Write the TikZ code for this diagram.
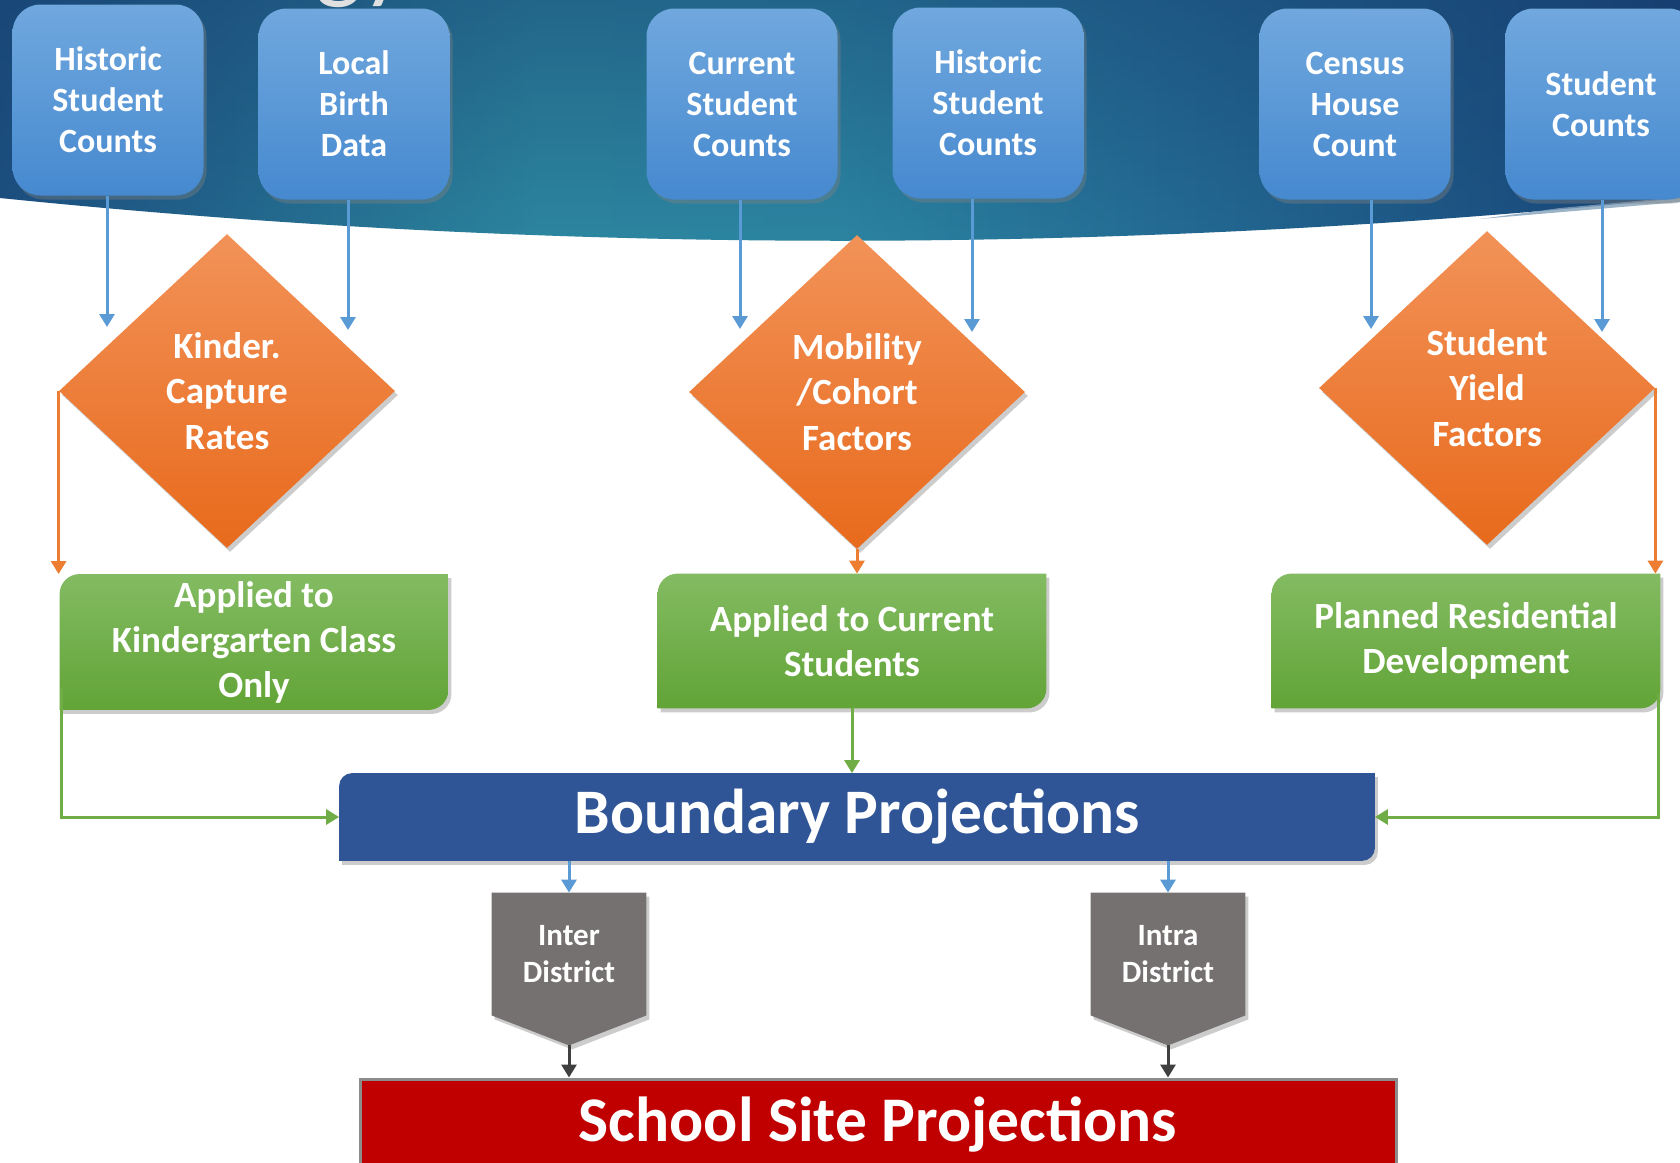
\documentclass[tikz,border=0pt]{standalone}
\usepackage{fontspec}
\setmainfont{Carlito}
\usetikzlibrary{shapes.geometric,arrows.meta,shadows,backgrounds,fadings}

\definecolor{bandA}{RGB}{28,80,128}
\definecolor{bandB}{RGB}{45,136,160}
\definecolor{bandC}{RGB}{44,134,162}
\definecolor{bandD}{RGB}{36,108,148}
\definecolor{bandE}{RGB}{28,82,130}
\definecolor{bandF}{RGB}{24,66,115}
\definecolor{bandTop}{RGB}{22,60,110}
\definecolor{boxT}{RGB}{112,168,222}
\definecolor{boxB}{RGB}{70,137,207}
\definecolor{diaT}{RGB}{242,146,88}
\definecolor{diaB}{RGB}{232,106,28}
\definecolor{grnT}{RGB}{131,187,98}
\definecolor{grnB}{RGB}{98,164,55}
\definecolor{bndBlue}{RGB}{47,85,151}
\definecolor{pentGrey}{RGB}{118,113,113}
\definecolor{siteRed}{RGB}{192,0,0}
\definecolor{arrBlue}{RGB}{91,155,213}
\definecolor{arrOrange}{RGB}{237,125,49}
\definecolor{arrGreen}{RGB}{112,173,71}
\definecolor{arrDark}{RGB}{64,64,64}

\pgfdeclarehorizontalshading{bandshade}{100bp}{color(0bp)=(bandA); color(25bp)=(bandA); color(41bp)=(bandB);
  color(50bp)=(bandC); color(60bp)=(bandD); color(70bp)=(bandE); color(75bp)=(bandF); color(100bp)=(bandF)}

\tikzset{
  myshadow/.style={drop shadow={opacity=0.4,shadow xshift=1.5pt,shadow yshift=-2pt}},
  inputbox/.style={rounded corners=14pt, top color=boxT, bottom color=boxB, minimum width=95.5pt, minimum height=95.5pt,
    text=white, align=center, font=\fontsize{17}{20.5}\selectfont\bfseries, myshadow},
  factor/.style={diamond, inner sep=0pt, minimum width=168pt, minimum height=157pt, top color=diaT, bottom color=diaB,
    text=white, align=center, font=\fontsize{18.5}{22.7}\selectfont\bfseries, myshadow},
  resultbox/.style={minimum width=194pt, minimum height=67pt, text=white, align=center, font=\fontsize{18.5}{22.5}\selectfont\bfseries},
  bigbar/.style={minimum width=517.5pt, minimum height=43.5pt, text=white, font=\fontsize{31.7}{38}\selectfont\bfseries},
  sitebar/.style={minimum width=518pt, minimum height=45pt, fill=siteRed, draw=black!45, line width=1.5pt, text=white,
    font=\fontsize{31.8}{38}\selectfont\bfseries},
  distr/.style={minimum width=77pt, minimum height=61pt, text=white, align=center, font=\fontsize{15.5}{18.75}\selectfont\bfseries},
  bluearr/.style={arrBlue, line width=1.5pt, -{Triangle[length=6.5pt,width=7.5pt]}},
  orangearr/.style={arrOrange, line width=1.5pt, -{Triangle[length=6.5pt,width=7.5pt]}},
  greenarr/.style={arrGreen, line width=1.5pt, -{Triangle[length=6.5pt,width=7.5pt]}},
  darkarr/.style={arrDark, line width=1.5pt, -{Triangle[length=6.5pt,width=7.5pt]}}
}

\begin{document}
\begin{tikzpicture}[x=0.5pt,y=-0.5pt]
\useasboundingbox (0,0) rectangle (1680,1162);

% backdrop and top band
\begin{scope}[on background layer]
\fill[white] (0,0) rectangle (1680,1162);
\shade[shading=bandshade] (0,-5) -- (1680,-5) -- (1680,198) .. controls (1120,255) and (560,255) .. (0,198) -- cycle;
\fill[bandTop, opacity=0.45, path fading=south] (0,-5) -- (1680,-5) -- (1680,198) .. controls (1120,255) and (560,255) .. (0,198) -- cycle;
\fill[bandE!55!white, opacity=0.8] (1480,219) -- (1680,202) -- (1680,197) -- (1560,208) -- cycle;
\end{scope}
\node[anchor=base, font=\fontsize{50}{50}\selectfont, text=black!12] (title) at (362,-10) {gy};

% data sources
\node[inputbox] (hist1) at (108,100) {Historic\\Student\\Counts};
\node[inputbox] (birth) at (354,104) {Local\\Birth\\Data};
\node[inputbox] (curr) at (742,104) {Current\\Student\\Counts};
\node[inputbox] (hist2) at (988,103) {Historic\\Student\\Counts};
\node[inputbox] (census) at (1355,104) {Census\\House\\Count};
\node[inputbox] (counts) at (1601,104) {Student\\Counts};

% factors
\node[factor] (kinder) at (227,391) {Kinder.\\Capture\\Rates};
\node[factor] (mobil) at (857,392) {Mobility\\/Cohort\\Factors};
\node[factor] (yield) at (1487,388) {Student\\Yield\\Factors};

% applied to
\node[resultbox] (kapp) at (254,642) {Applied to\\Kindergarten Class\\Only};
\node[resultbox] (capp) at (852,641) {Applied to Current\\Students};
\node[resultbox] (plan) at (1466,641) {Planned Residential\\Development};

\node[bigbar] (bound) at (857,817) {Boundary Projections};

\node[distr] (inter) at (569,954) {Inter\\District};
\node[distr] (intra) at (1168,954) {Intra\\District};
\coordinate (intertip) at ([yshift=-15pt]inter.south);
\coordinate (intratip) at ([yshift=-15pt]intra.south);

\node[sitebar] (site) at (878,1124) {School Site Projections};

\begin{scope}[on background layer]
\foreach \n in {kapp,capp,plan}
  \path[top color=grnT, bottom color=grnB, myshadow] (\n.west) [rounded corners=10pt] -- (\n.north west) -- (\n.north)
    [sharp corners] -- (\n.north east) -- (\n.east) [rounded corners=10pt] -- (\n.south east) -- (\n.south)
    [sharp corners] -- (\n.south west) -- cycle;
\path[fill=bndBlue, myshadow] (bound.west) [rounded corners=6.5pt] -- (bound.north west) -- (bound.north)
  [sharp corners] -- (bound.north east) -- (bound.east) [rounded corners=6.5pt] -- (bound.south east) -- (bound.south)
  [sharp corners] -- (bound.south west) -- cycle;
\foreach \n in {inter,intra}
  \fill[pentGrey, myshadow] (\n.north west) -- (\n.north east) -- (\n.south east) -- ([yshift=-15pt]\n.south) -- (\n.south west) -- cycle;
\end{scope}

% arrows
\coordinate (tipA) at (107,327);
\coordinate (tipB) at (348,330);
\coordinate (tipC) at (740,329);
\coordinate (tipD) at (972,332);
\coordinate (tipE) at (1371,329);
\coordinate (tipF) at (1602,332);
\foreach \src/\tip in {hist1/tipA,birth/tipB,curr/tipC,hist2/tipD,census/tipE,counts/tipF}
  \draw[bluearr] (\src.south -| \tip) -- (\tip);

\draw[orangearr] (kinder.west) -- (kinder.west |- kapp.north);
\draw[orangearr] (mobil.south) -- (mobil.south |- capp.north);
\draw[orangearr] (yield.east) -- (yield.east |- plan.north);

\draw[greenarr] ([xshift=1pt,yshift=11pt]kapp.south west) |- (bound.west);
\draw[greenarr] (capp.south) -- (capp.south |- bound.north);
\draw[greenarr] ([xshift=-1pt,yshift=7pt]plan.south east) |- (bound.east);

\draw[bluearr] (bound.south -| inter.north) -- (inter.north);
\draw[bluearr] (bound.south -| intra.north) -- (intra.north);
\draw[darkarr] (intertip) -- (intertip |- site.north);
\draw[darkarr] (intratip) -- (intratip |- site.north);

\end{tikzpicture}
\end{document}
